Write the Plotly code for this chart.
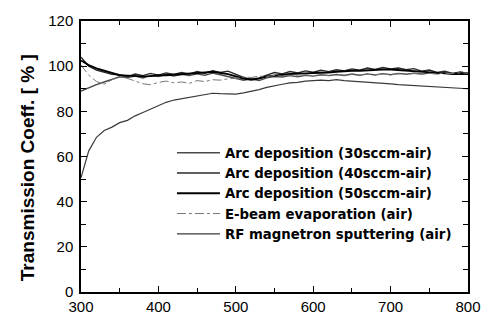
import plotly.graph_objects as go

wavelength = list(range(300, 801, 10))

arc30 = [89.0, 90.5, 91.8, 93.0, 94.3, 95.3, 95.0, 95.6, 94.8, 95.9,
         95.4, 96.3, 95.6, 96.4, 95.8, 96.6, 96.0, 96.9, 96.2, 95.5,
         94.8, 93.8, 94.4, 93.6, 94.8, 95.4, 95.2, 95.8, 95.3, 96.0,
         95.6, 96.2, 95.8, 96.3, 95.9, 96.5, 96.0, 96.6, 96.1, 96.7,
         96.2, 96.8, 96.4, 96.9, 96.5, 97.0, 96.6, 97.1, 96.8, 97.2, 97.0]

arc40 = [104.0, 100.0, 98.3, 97.4, 96.4, 96.2, 95.4, 96.5, 95.8, 96.8,
         96.0, 97.0, 96.3, 97.2, 96.5, 97.6, 96.8, 98.0, 97.2, 97.8,
         96.5, 95.0, 94.2, 94.8, 96.0, 97.2, 96.6, 97.6, 97.0, 97.9,
         97.3, 98.2, 97.6, 98.4, 97.9, 98.8, 98.2, 99.2, 98.5, 99.4,
         98.8, 99.2, 98.4, 98.9, 97.8, 98.3, 97.2, 97.8, 96.8, 97.4, 96.8]

arc50 = [102.5, 100.5, 99.0, 98.0, 97.0, 96.0, 95.8, 95.5, 95.5, 95.6,
         96.0, 96.0, 96.2, 96.5, 96.5, 97.0, 97.2, 97.5, 97.0, 96.5,
         95.5, 94.5, 94.0, 94.5, 95.5, 96.0, 96.2, 96.5, 96.5, 96.8,
         97.0, 97.0, 97.2, 97.5, 97.8, 98.0, 98.0, 98.2, 98.5, 98.5,
         98.5, 98.3, 98.0, 97.8, 97.5, 97.2, 97.0, 96.8, 96.5, 96.5, 96.5]

ebeam = [100.5, 96.0, 93.2, 92.0, 94.0, 95.5, 94.6, 93.5, 92.2, 91.8,
         92.8, 93.4, 92.6, 93.0, 92.4, 93.6, 93.2, 94.0, 93.8, 94.4,
         94.6, 95.2, 95.0, 95.6, 95.4, 95.9, 95.6, 96.0, 95.7, 96.1,
         95.8, 96.2, 95.9, 96.3, 96.0, 96.3, 96.1, 96.4, 96.2, 96.5,
         96.3, 96.6, 96.4, 96.7, 96.5, 96.8, 96.6, 96.9, 96.7, 97.0, 96.9]

rf = [50.5, 62.5, 68.5, 71.5, 73.0, 75.0, 76.0, 78.0, 79.5, 81.0,
      82.5, 84.0, 85.0, 85.6, 86.4, 87.0, 87.4, 88.0, 87.8, 87.6,
      87.6, 88.2, 88.8, 89.6, 90.6, 91.4, 92.0, 92.6, 92.8, 93.4,
      93.6, 93.8, 93.6, 94.0, 93.6, 93.4, 93.2, 93.0, 92.8, 92.5,
      92.2, 91.8, 91.6, 91.3, 91.0, 90.9, 90.6, 90.5, 90.3, 90.1, 90.0]

names = ["Arc deposition (30sccm-air)", "Arc deposition (40sccm-air)",
         "Arc deposition (50sccm-air)", "E-beam evaporation (air)",
         "RF magnetron sputtering (air)"]

x_ticks = [300, 400, 500, 600, 700, 800]
y_ticks = [0, 20, 40, 60, 80, 100, 120]

series = [arc30, arc40, arc50, ebeam, rf]
styles = [
    dict(color="#4a4a4a", width=1.4, dash="solid"),
    dict(color="#2a2a2a", width=1.4, dash="solid"),
    dict(color="#000000", width=1.9, dash="solid"),
    dict(color="#777777", width=1.0, dash="dashdot"),
    dict(color="#3a3a3a", width=1.2, dash="solid"),
]

fig = go.Figure()
for n, s, st in zip(names, series, styles):
    fig.add_trace(go.Scatter(x=wavelength, y=s, mode="lines", name=n, line=st))

axis_common = dict(
    showline=True, linecolor="black", linewidth=1.5, mirror="ticks",
    ticks="inside", ticklen=6, tickwidth=1.2, tickcolor="black",
    showgrid=False, zeroline=False,
    tickfont=dict(family="Liberation Sans, Arial", size=15, color="black"),
)

fig.update_xaxes(range=[300, 800], tickvals=x_ticks,
                 minor=dict(dtick=50, ticks="inside", ticklen=4, tickcolor="black", tickwidth=1.2),
                 **axis_common)
fig.update_yaxes(range=[0, 120], tickvals=y_ticks, ticklabelstandoff=3,
                 minor=dict(dtick=10, ticks="inside", ticklen=5, tickcolor="black", tickwidth=1.2),
                 **axis_common)

fig.add_annotation(text="<b>Transmission Coeff. [ % ]</b>", textangle=-90,
                   xref="paper", yref="paper", x=-0.138, y=0.459,
                   showarrow=False, xanchor="center", yanchor="middle",
                   font=dict(family="Liberation Sans, Arial", size=19, color="black"))

fig.update_layout(
    width=493, height=327,
    margin=dict(l=81, r=21, t=15, b=22),
    plot_bgcolor="white", paper_bgcolor="white",
    showlegend=True,
    legend=dict(x=0.235, y=0.57, xanchor="left", yanchor="top",
                bgcolor="rgba(0,0,0,0)", borderwidth=0, itemwidth=43,
                font=dict(family="DejaVu Sans", size=13.3, color="black", weight="bold"),
                tracegroupgap=0),
)

fig.write_html("out.html")
